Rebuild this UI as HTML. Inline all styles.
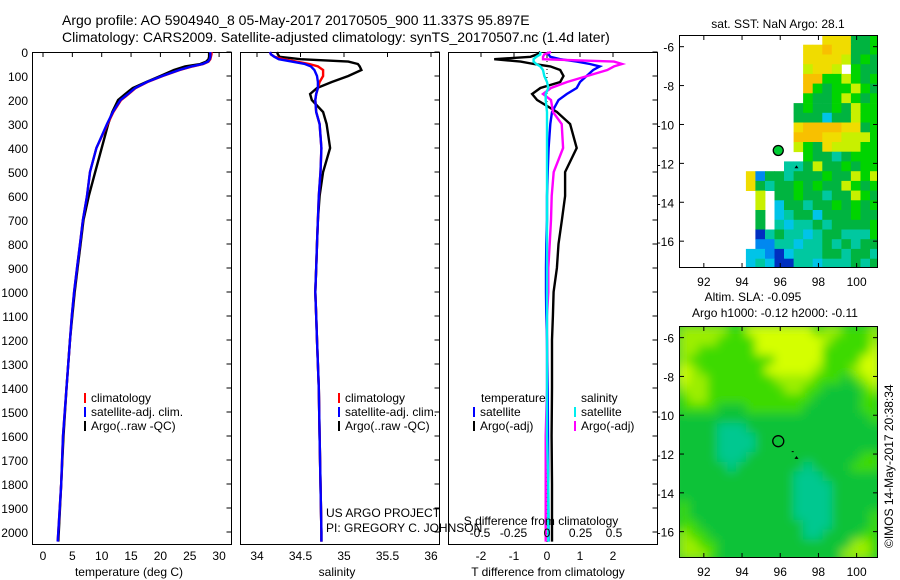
<!DOCTYPE html>
<html><head><meta charset="utf-8"><style>
html,body{margin:0;padding:0;background:#fff}
svg{display:block;font-family:"Liberation Sans",sans-serif}
text{fill:#000}
</style></head><body>
<svg id="chart" width="900" height="580" viewBox="0 0 900 580" xmlns="http://www.w3.org/2000/svg">
<defs>
<filter id="blur" x="-5%" y="-5%" width="110%" height="110%"><feGaussianBlur stdDeviation="5"/></filter>
<clipPath id="clipTop"><rect x="679" y="35" width="198" height="232"/></clipPath>
<clipPath id="clipBot"><rect x="679" y="326" width="198" height="231"/></clipPath>
</defs>
<text x="62" y="25" font-size="14">Argo profile: AO 5904940_8 05-May-2017 20170505_900 11.337S 95.897E</text>
<text x="62" y="42" font-size="14">Climatology: CARS2009. Satellite-adjusted climatology: synTS_20170507.nc (1.4d later)</text>
<g id="g"></g>
</svg>
<script>
// depths (m)
const depths=[0,10,20,30,40,50,60,75,100,125,150,175,200,250,300,400,500,600,700,800,900,1000,1100,1200,1400,1600,1800,2000,2040];
// temperature (deg C)
const tempClim=[28.7,28.7,28.6,28.5,28.2,27.3,25.5,23.3,20.4,17.8,15.8,14.6,13.3,12.0,11.0,9.1,8.0,7.5,6.8,6.3,5.8,5.3,4.9,4.6,4.0,3.4,3.1,2.6,2.5];
const tempSat=[28.5,28.5,28.5,28.4,28.1,27.2,25.3,23.2,20.3,17.7,15.7,14.5,13.2,11.9,10.9,9.1,8.0,7.5,6.8,6.3,5.8,5.3,4.9,4.6,4.0,3.4,3.1,2.6,2.5];
const tempArgo=[28.3,28.3,28.3,28.2,27.8,26.8,24.2,22.3,20.0,17.6,15.3,14.0,12.8,11.8,11.1,10.0,8.9,7.8,6.9,6.4,5.9,5.4,5.0,4.6,4.0,3.5,3.1,2.7,2.6];
// salinity
const salClim=[34.15,34.16,34.2,34.3,34.45,34.6,34.7,34.76,34.76,34.72,34.7,34.68,34.67,34.68,34.72,34.74,34.73,34.71,34.7,34.69,34.68,34.67,34.68,34.69,34.71,34.72,34.73,34.74,34.74];
const salSat=[34.15,34.16,34.2,34.25,34.4,34.55,34.62,34.66,34.69,34.7,34.7,34.68,34.67,34.68,34.72,34.74,34.73,34.71,34.7,34.69,34.68,34.67,34.68,34.69,34.71,34.72,34.73,34.74,34.74];
const salArgo=[34.23,34.24,34.26,34.5,35.05,35.16,35.18,35.2,35.05,34.86,34.69,34.61,34.63,34.76,34.8,34.84,34.76,34.72,34.7,34.69,34.68,34.67,34.68,34.69,34.71,34.72,34.73,34.74,34.74];
// differences from climatology
const dTSat=[0,0.05,0.1,0.4,0.9,1.3,1.6,1.4,1.2,1.0,0.9,0.6,0.35,0.15,0.1,0.05,0.02,0,0,-0.02,-0.03,-0.03,-0.02,0,0.02,0.03,0.04,0.05,0.05];
const dTArgo=[-0.2,-0.3,-0.5,-1.6,-0.8,-0.4,0.1,0.4,0.5,0.4,-0.2,-0.45,-0.3,0.3,0.7,0.9,0.55,0.55,0.45,0.35,0.3,0.2,0.18,0.15,0.15,0.14,0.15,0.15,0.15];
const dSSat=[-0.05,-0.05,-0.08,-0.1,-0.1,-0.08,-0.05,-0.03,-0.02,0,0.01,-0.01,-0.01,0,0,0,0,0,0,0,0,0,0,0,0,0,0.01,0.01,0.01];
const dSArgo=[0.03,-0.02,-0.03,-0.03,0.5,0.56,0.5,0.45,0.3,0.15,0.03,-0.03,0.03,0.045,0.11,0.12,0.05,0.035,0.03,0.02,0.01,0.01,0,0,0,-0.01,-0.01,-0.01,-0.01];
const depthTicks=[0,100,200,300,400,500,600,700,800,900,1000,1100,1200,1300,1400,1500,1600,1700,1800,1900,2000];
const tempTicks=[0,5,10,15,20,25,30];
const salTicks=[34,34.5,35,35.5,36];
const tDiffTicks=[-2,-1,0,1,2];
const sDiffTickLabels=["-0.5","-0.25","0","0.25","0.5"];
const sDiffTicks=[-0.5,-0.25,0,0.25,0.5];
// map axes
const lonTicks=[92,94,96,98,100];
const latTicks=[-6,-8,-10,-12,-14,-16];
// SST grid (0.5deg cells from lon 90.7, lat -5.4)
const sstRows=[
"               yyyGGg",
"             yyoyyGGg",
"             yyyylGgG",
"             lyyl gGG",
"             oogglgGg",
"             ogGgglgG",
"             gGGglgGg",
"            GgGGgGlgg",
"            GGGcGGlgg",
"            yooooyyGg",
"            oooyylllg",
"            lgGylllgg",
"             gGGtGggg",
"           ttGlGGgGgg",
"       ybGGtGGGgGGlgl",
"       yGtGGgGgGGlgGg",
"        l GGgGGtGGlgG",
"        l cGGtGGgGgGg",
"        G ctGGcGGGgGG",
"        G tcttGtGGGGg",
"        BtGttctGGtttg",
"        bbttcttGtGtGG",
"       ccbBctttGGtGGt",
"       ctcBBttctttGtG"];
// SLA grid
const slaRows=[
"LLLLLggYYYYYYYgLLgggL",
"LLLLggggYYYYYYYLggggL",
"LLggggggYYYYYYYgggggY",
"LgggggggggYYYYYggggYY",
"YLgggggggYYYYYLgggLYY",
"YLLgggggggLLLLgggGgLY",
"LLLggggggggLLggGGGGgL",
"gLLgggggggggggGGGGGgg",
"ggggGGGggggggGGGGGGgg",
"GGGGGGGGGGGGGGGGGGGGg",
"GGGGTTTGGGGGGGGGGGGGG",
"GGGGTTTTGGGGGGGGGGGGG",
"GGGGTTTTGGGGGGGGGGGGG",
"GGGGTTTGGGGGGGGGGGGgg",
"GGGGGTGGGGGGGTGGGGggg",
"GGGGGGGGGGGGTTTGGGGGG",
"GGGGGGGGGGGGTTTTGGGGG",
"GGGGGGGGGGGGTTTTGGGGG",
"gGGGGGGGGGGGTTTTGGGGG",
"gGGGGGGGGGGGTTTTGGGGg",
"ggGGGGGGGGGGGTTTGGGGg",
"LggGGGGGGGGGGTTGGGGgg",
"LLggGGGGGGGGGGGGGGLLg",
"LLLgGGGGGGGGGGGGGLLLg"];
const sstColors={y:"#f0dc00",o:"#f8c000",l:"#c8f000",g:"#00d400",G:"#00b440",t:"#00c8a0",c:"#00c4e8",b:"#0088f0",B:"#0030c0"};
const slaColors={Y:"#d4ff00",L:"#9cee00",g:"#3cda00",G:"#10c238",T:"#00c890"};

const NS="http://www.w3.org/2000/svg";
const G=document.getElementById('g');
function mk(tag,attrs,parent){const e=document.createElementNS(NS,tag);for(const k in attrs)e.setAttribute(k,attrs[k]);(parent||G).appendChild(e);return e;}
const yD=d=>52+d*0.24;
const panels=[
 {x0:32.5,x1:231.5,name:'temperature-panel'},
 {x0:240.5,x1:439.5,name:'salinity-panel'},
 {x0:448.5,x1:657.5,name:'difference-panel'}];
const xT=v=>43+v*5.87;
const xS=v=>257+(v-34)*87;
const xDT=v=>547+v*33;
const xDS=v=>547+v*134;

function line(xs,vals,fn,color,name,w){
  const pts=vals.map((v,i)=>fn(v).toFixed(1)+','+yD(depths[i]).toFixed(1)).join(' ');
  const p=mk('polyline',{points:pts,fill:'none',stroke:color,'stroke-width':w||2.4,'stroke-linejoin':'miter'});
  
  
}
function txt(x,y,s,opts){const t=mk('text',Object.assign({x:x,y:y,'font-size':12},opts||{}));t.textContent=s;return t;}

panels.forEach(p=>{
  const r=mk('rect',{x:p.x0,y:52.5,width:p.x1-p.x0,height:492,fill:'none',stroke:'#000','stroke-width':1});
  
  
  depthTicks.forEach(d=>{mk('line',{x1:p.x1-5,x2:p.x1,y1:yD(d),y2:yD(d),stroke:'#000'});});
});
depthTicks.forEach(d=>{
  const t=txt(28,yD(d)+5,String(d),{'text-anchor':'end','font-size':12});
  
  
});
function xticks(ticks,fn,labels,y){
  ticks.forEach((v,i)=>{const x=fn(v);
    mk('line',{x1:x,x2:x,y1:52.5,y2:57,stroke:'#000'});
    if(labels){const t=txt(x,y,labels[i],{'text-anchor':'middle'});
      
      }
  });
}
xticks(tempTicks,xT,tempTicks.map(String),560);
xticks(salTicks,xS,salTicks.map(String),560);
xticks(tDiffTicks,xDT,tDiffTicks.map(String),560);
txt(129,576,'temperature (deg C)',{'text-anchor':'middle'});
txt(337,576,'salinity',{'text-anchor':'middle'});
txt(548,576,'T difference from climatology',{'text-anchor':'middle'});

// zero line in diff panel
mk('line',{x1:547,x2:547,y1:53,y2:544,stroke:'#000','stroke-dasharray':'1,3'});

// temperature
line(depths,tempArgo,xT,'#000','temp-argo-line');
line(depths,tempClim,xT,'#f00','temp-clim-line');
line(depths,tempSat,xT,'#00f','temp-sat-line');
// salinity
line(depths,salArgo,xS,'#000','sal-argo-line');
line(depths,salClim,xS,'#f00','sal-clim-line');
line(depths,salSat,xS,'#00f','sal-sat-line');
// diffs
line(depths,dTArgo,xDT,'#000','tdiff-argo-line');
line(depths,dTSat,xDT,'#00f','tdiff-sat-line');
line(depths,dSArgo,xDS,'#f0f','sdiff-argo-line');
line(depths,dSSat,xDS,'#0ee','sdiff-sat-line');

// legends
function leg(x,y,color,label){
  const g=mk('g',{});
  
  
  mk('rect',{x:x,y:y-9,width:2,height:10,fill:color},g);
  const t=mk('text',{x:x+7,y:y,'font-size':12},g);t.textContent=label;
}
[[84,'climatology','#f00',402],[84,'satellite-adj. clim.','#00f',416],[84,'Argo(..raw -QC)','#000',430]].forEach(a=>leg(a[0],a[3],a[2],a[1]));
[[338,'climatology','#f00',402],[338,'satellite-adj. clim.','#00f',416],[338,'Argo(..raw -QC)','#000',430]].forEach(a=>leg(a[0],a[3],a[2],a[1]));
txt(481,402,'temperature');
txt(581,402,'salinity');
leg(473,416,'#00f','satellite');
leg(473,430,'#000','Argo(-adj)');
leg(574,416,'#0ee','satellite');
leg(574,430,'#f0f','Argo(-adj)');
txt(326,517,'US ARGO PROJECT');
txt(326,532,'PI: GREGORY C. JOHNSON');
txt(541,525,'S difference from climatology',{'text-anchor':'middle'});
sDiffTicks.forEach((v,i)=>{const t=txt(xDS(v),537,sDiffTickLabels[i],{'text-anchor':'middle'});
  
  });

// maps
const lonX=l=>679+(l-90.7)*19.1;
function drawMap(rows,colors,top,latScale,clip,blur,name){
  const gm=mk('g',{'clip-path':'url(#'+clip+')'});
  
  
  const inner=blur?mk('g',{filter:'url(#blur)'},gm):gm;
  if(blur){mk('rect',{x:670,y:top-10,width:220,height:250,fill:colors.G},inner);}
  const latY=la=>top+(-5.4-la)*latScale;
  rows.forEach((row,j)=>{
    for(let i=0;i<row.length;i++){const c=row[i]; if(c===' ')continue;
      const x=lonX(90.7+i*0.5), y=latY(-5.4-j*0.5);
      const r=mk('rect',{x:x.toFixed(1),y:y.toFixed(1),width:(0.5*19.1+0.4).toFixed(1),height:(0.5*latScale+0.4).toFixed(1),fill:colors[c]},inner);
      
      
    }
  });
  return latY;
}
const latTop=drawMap(sstRows,sstColors,35,19.45,'clipTop',false,'sst-map');
const latBot=drawMap(slaRows,slaColors,326,19.4,'clipBot',true,'sla-map');
function mapFrame(top,h,latY,name){
  const r=mk('rect',{x:679.5,y:top+0.5,width:198,height:h,fill:'none',stroke:'#000'});
  
  
  lonTicks.forEach(l=>{const x=lonX(l);
    mk('line',{x1:x,x2:x,y1:top,y2:top+5,stroke:'#000'});
    mk('line',{x1:x,x2:x,y1:top+h-4,y2:top+h,stroke:'#000'});
    const t=txt(x,top+h+19,String(l),{'text-anchor':'middle'});
    
    });
  latTicks.forEach(la=>{const y=latY(la);
    mk('line',{x1:679,x2:684,y1:y,y2:y,stroke:'#000'});
    mk('line',{x1:873,x2:878,y1:y,y2:y,stroke:'#000'});
    const t=txt(674,y+5,String(la),{'text-anchor':'end'});
    
    });
}
mapFrame(35,232,latTop,'sst-map-frame');
mapFrame(326,231,latBot,'sla-map-frame');
// argo position markers
const argoLon=95.897, argoLat=-11.337;
let m=mk('circle',{cx:lonX(argoLon),cy:latTop(argoLat),r:5,fill:'#00cc33',stroke:'#000','stroke-width':1.3});

m=mk('circle',{cx:lonX(argoLon),cy:latBot(argoLat),r:5.5,fill:'none',stroke:'#000','stroke-width':1.3});

mk('polygon',{points:`${lonX(96.85)-2},${latBot(-12.25)} ${lonX(96.85)+2},${latBot(-12.25)} ${lonX(96.85)},${latBot(-12.1)}`,fill:'#000'});
mk('rect',{x:lonX(96.6),y:latBot(-11.85),width:2,height:1,fill:'#000'});
mk('polygon',{points:`${lonX(96.85)-2},${latTop(-12.25)} ${lonX(96.85)+2},${latTop(-12.25)} ${lonX(96.85)},${latTop(-12.1)}`,fill:'#000'});
txt(778,28,'sat. SST: NaN Argo: 28.1',{'text-anchor':'middle'});
txt(753,301,'Altim. SLA: -0.095',{'text-anchor':'middle'});
txt(775,317,'Argo h1000: -0.12 h2000: -0.11',{'text-anchor':'middle'});
const cr=txt(0,0,'©IMOS 14-May-2017 20:38:34',{transform:'translate(893,548) rotate(-90)'});


</script>
</body></html>
